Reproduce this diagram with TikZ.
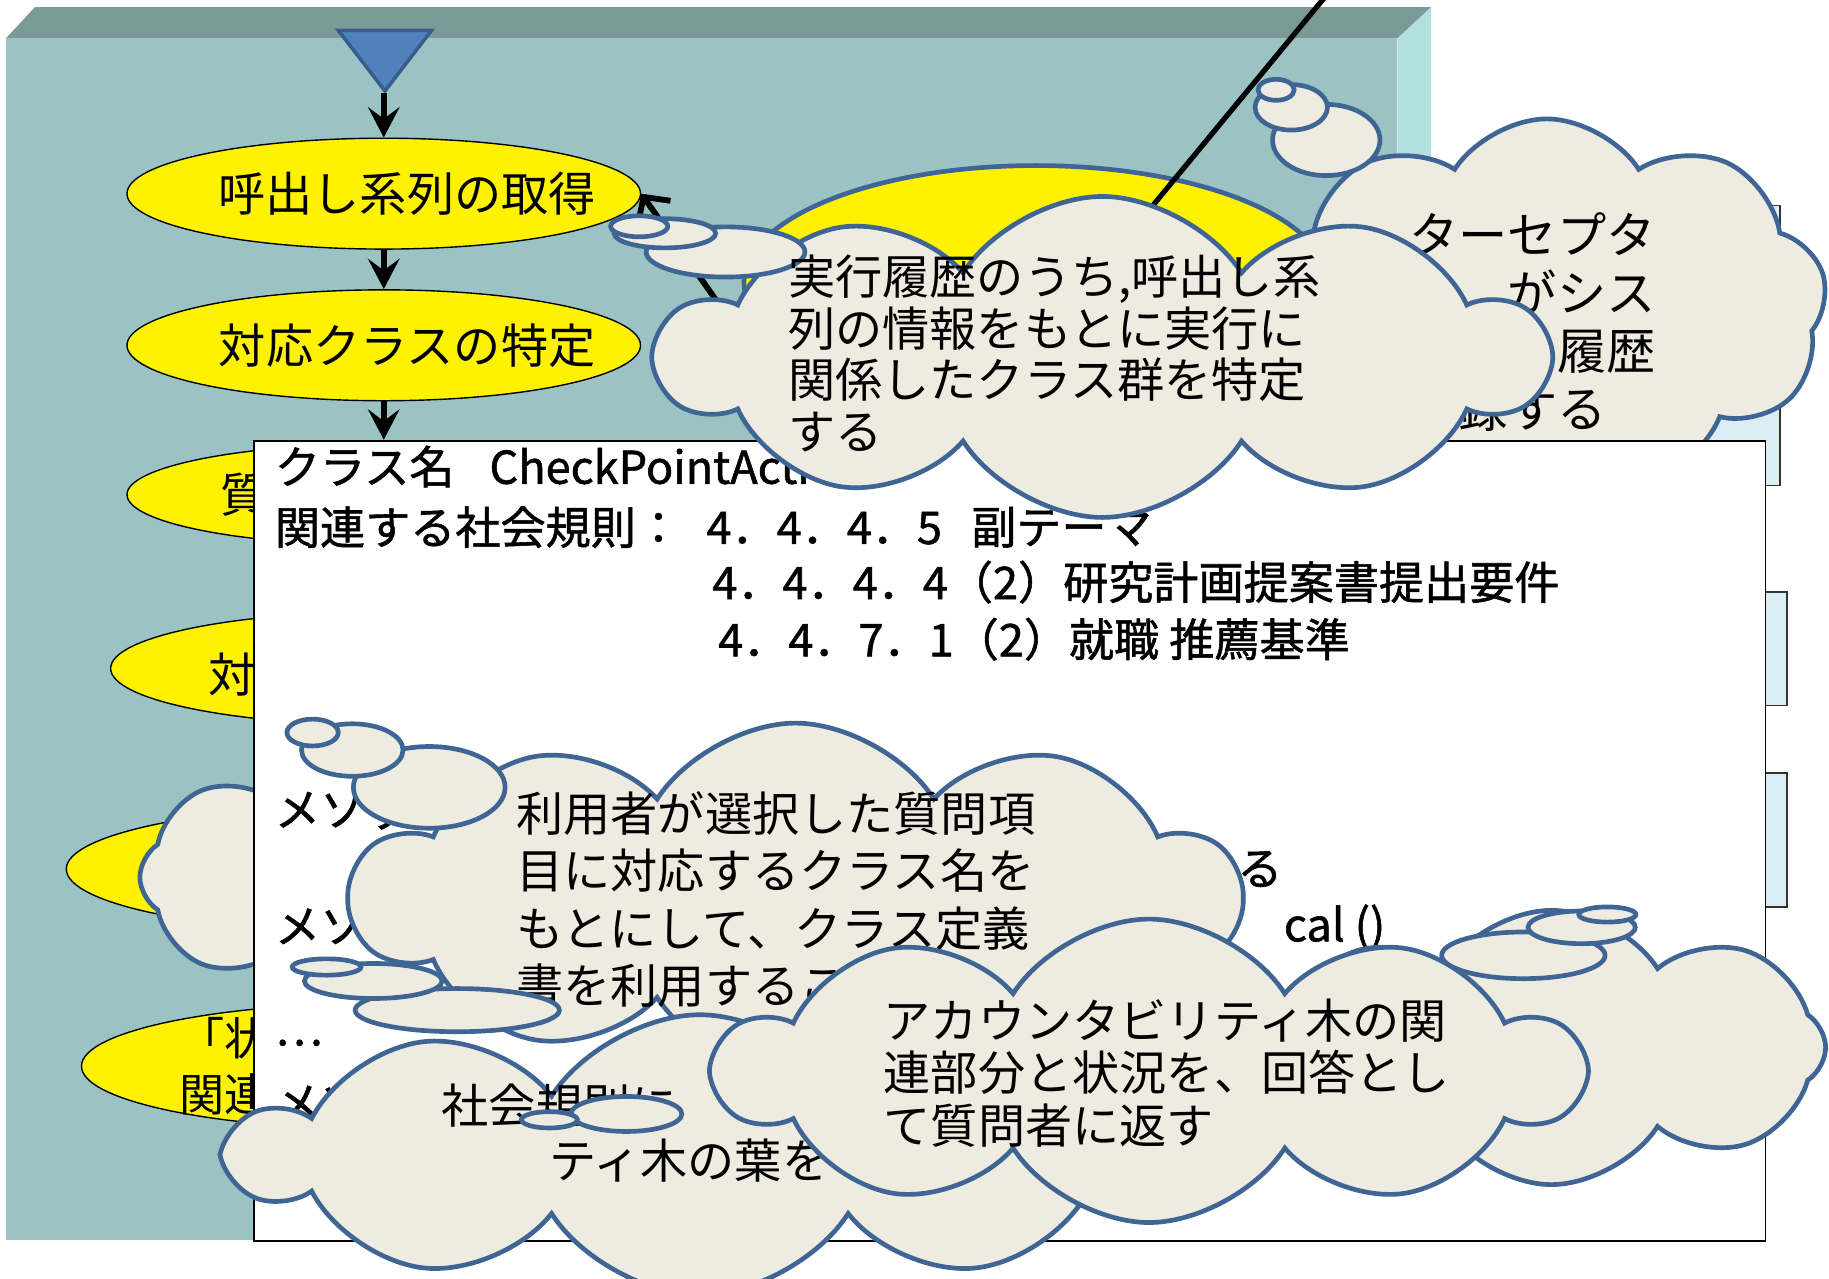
\documentclass[tikz,border=0pt]{standalone}
\usepackage{fontspec}
\setmainfont{Noto Sans CJK JP}
\newfontfamily\cardfont[FakeBold=1.2]{Noto Sans CJK JP}
\usetikzlibrary{shapes.symbols,shapes.geometric,arrows.meta}

\definecolor{wallfront}{HTML}{9BC3C4}
\definecolor{walltop}{HTML}{7A9A98}
\definecolor{wallside}{HTML}{B2E0E0}
\definecolor{slip}{HTML}{DBEEF4}
\definecolor{puff}{HTML}{EEEBE1}
\definecolor{puffline}{HTML}{3F6595}
\definecolor{tri}{HTML}{4F81BD}
\definecolor{triline}{HTML}{385D8A}

\tikzset{
  act/.style={draw, ellipse, fill=yellow, line width=0.012cm, inner xsep=-0.35cm, inner ysep=0pt, font=\fontsize{11.5}{14}\selectfont},
  flow/.style={line width=0.055cm, -{Stealth[length=0.26cm,width=0.27cm,inset=0.1cm]}},
  think/.style={cloud, cloud puffs=#1, cloud puff arc=115, cloud ignores aspect, draw=puffline, fill=puff, line width=0.04cm, inner sep=0pt},
  bub/.style={ellipse, draw=puffline, fill=puff, line width=0.04cm, inner sep=0pt},
  sheet/.style={draw=black!80, fill=slip, line width=0.015cm, inner sep=0pt},
  say/.style={align=left, inner sep=0pt, anchor=west},
  row/.style={inner sep=0pt, anchor=west, font=\cardfont\fontsize{11}{13}\selectfont}
}

\begin{document}
\begin{tikzpicture}[x=0.01cm, y=-0.01cm]
\useasboundingbox (0,0) rectangle (1568,1096);
\clip (0,0) rectangle (1568,1096);

% stage
\fill[walltop] (5,33) -- (30,6) -- (1227,6) -- (1198,33) -- cycle;
\fill[wallside] (1198,33) -- (1227,6) -- (1227,1036) -- (1198,1063) -- cycle;
\fill[wallfront] (5,33) rectangle (1198,1063);

% cards lying behind
\node[sheet, minimum width=3.0cm, minimum height=2.4cm, anchor=south east] (back1) at (1527,417) {};
\node[sheet, minimum width=1.0cm, minimum height=0.97cm, anchor=north east] (back2) at (1533,507) {};
\node[sheet, minimum width=1.0cm, minimum height=1.15cm, anchor=north east] (back3) at (1533,662) {};

% big step and its wires
\node[ellipse, draw=puffline, fill=yellow, line width=0.04cm, minimum width=5.0cm, minimum height=2.0cm] (big) at (888,242) {};
\coordinate (wire) at (1142,-10);
\coordinate (wireend) at (934,242);
\draw[line width=0.045cm] (wire) -- (wireend);

% flow
\fill[fill=tri, draw=triline, line width=0.03cm] (290,26) -- (370,26) -- (330,78) -- cycle;
\coordinate (tip) at (329,80);
\node[act, minimum width=4.4cm, minimum height=0.95cm] (e1) at (329,166) {\hspace{0.4cm}呼出し系列の取得};
\node[act, minimum width=4.4cm, minimum height=0.95cm] (e2) at (329,296) {\hspace{0.4cm}対応クラスの特定};
\node[act, minimum width=4.4cm, minimum height=0.87cm] (e3) at (329,424) {};
\node[act, minimum width=4.68cm, minimum height=0.97cm] (e4) at (329,573) {};
\node[act, minimum width=5.44cm, minimum height=1.1cm] (e5) at (329,745) {};
\node[act, minimum width=5.18cm, minimum height=1.08cm] (e6) at (329,914) {};
\node[say, font=\fontsize{11.5}{14}\selectfont] (e3t) at (188,424) {質};
\node[say, font=\fontsize{11.5}{14}\selectfont] (e4t) at (178,578) {対};
\node[say, font=\fontsize{11.5}{14}\selectfont] (e5t) at (150,762) {関};
\node[say, font=\fontsize{11}{13.5}\selectfont] (e6t) at (153,914) {「状\\関連};
\draw[flow] (tip) -- (e1.north);
\draw[flow] (e1) -- (e2);
\coordinate (back) at (665,330);
\draw[line width=0.05cm, -{Straight Barb[length=0.16cm,width=0.34cm]}] (back) -- (e1.east);

% cloud behind the card
\node[think=8, minimum width=3.6cm, minimum height=2.1cm] (lcloud) at (300,752) {};

% recording cloud
\node[think=9, minimum width=4.8cm, minimum height=3.2cm] (rec) at (1326,262) {};
\node[bub, minimum width=0.92cm, minimum height=0.61cm] (rec3) at (1137,120) {};
\node[bub, minimum width=0.62cm, minimum height=0.39cm] (rec2) at (1107,92) {};
\node[bub, minimum width=0.31cm, minimum height=0.18cm] (rec1) at (1094,77) {};
\node[say, anchor=east, align=right, font=\fontsize{12}{14.2}\selectfont] (rect) at (1420,276)
  {ターセプタ\\がシス\\履歴\\記録する\rule{0.42cm}{0pt}};

% class card
\node[draw, fill=white, line width=0.015cm, minimum width=12.95cm, minimum height=6.86cm, anchor=north west, inner sep=0pt] (card) at (217,377) {};
\draw[flow] (e2) -- (e2 |- card.north);
\node[row] (c1) at (235,400) {クラス名\hspace{0.3cm}CheckPointActi};
\node[row] (c2) at (235,452) {関連する社会規則：};
\node[row] (c2n) at (605,452) {4．4．4．5\hspace{0.25cm}副テーマ};
\node[row] (c3) at (610,499) {4．4．4．4（2）研究計画提案書提出要件};
\node[row] (c4) at (615,548) {4．4．7．1（2）就職 推薦基準};
\node[row] (m1) at (235,695) {メソッ};
\node[row] (m1e) at (1060,745) {る};
\node[row] (m2) at (235,795) {メソッ};
\node[row] (m2e) at (1100,795) {cal ()};
\node[row] (dots) at (235,894) {…};
\node[row] (m3) at (235,946) {メソ};

% tracing cloud
\node[think=10, minimum width=7.6cm, minimum height=2.75cm] (trace) at (945,306) {};
\node[bub, minimum width=1.36cm, minimum height=0.43cm] (trace3) at (622,216) {};
\node[bub, minimum width=0.87cm, minimum height=0.25cm] (trace2) at (570,200) {};
\node[bub, minimum width=0.49cm, minimum height=0.18cm] (trace1) at (548,194) {};
\node[say, font=\fontsize{11.5}{12.6}\selectfont] (tracet) at (675,303)
  {実行履歴のうち,呼出し系\\列の情報をもとに実行に\\関係したクラス群を特定\\する};

% lookup cloud
\node[think=10, minimum width=7.6cm, minimum height=3.0cm] (look) at (682,770) {};
\node[bub, minimum width=1.30cm, minimum height=0.70cm] (look3) at (368,675) {};
\node[bub, minimum width=0.87cm, minimum height=0.45cm] (look2) at (302,643) {};
\node[bub, minimum width=0.44cm, minimum height=0.23cm] (look1) at (268,628) {};
\node[say, font=\fontsize{11.5}{14}\selectfont] (lookt) at (442,771)
  {利用者が選択した質問項\\目に対応するクラス名を\\もとにして、クラス定義\\書を利用すること};

% cloud behind the answer
\node[think=8, minimum width=4.7cm, minimum height=2.35cm] (side) at (1330,898) {};

% leaf cloud
\node[think=10, minimum width=8.0cm, minimum height=2.4cm] (leaf) at (600,990) {};
\node[bub, minimum width=1.75cm, minimum height=0.37cm] (leaf3) at (392,866) {};
\node[bub, minimum width=1.18cm, minimum height=0.30cm] (leaf2) at (320,841) {};
\node[bub, minimum width=0.59cm, minimum height=0.14cm] (leaf1) at (280,829) {};
\node[say, font=\fontsize{11.5}{14}\selectfont] (leaft1) at (378,948) {社会規則に};
\node[say, font=\fontsize{11.5}{14}\selectfont] (leaft2) at (470,995) {ティ木の葉を};
\node[bub, minimum width=0.95cm, minimum height=0.30cm] (mid2) at (537,955) {};
\node[bub, minimum width=0.48cm, minimum height=0.14cm] (mid1) at (471,960) {};

% answer cloud
\node[think=10, minimum width=7.4cm, minimum height=2.6cm] (answer) at (985,918) {};
\node[bub, minimum width=1.40cm, minimum height=0.40cm] (answer3) at (1306,819) {};
\node[bub, minimum width=0.92cm, minimum height=0.28cm] (answer2) at (1356,795) {};
\node[bub, minimum width=0.49cm, minimum height=0.13cm] (answer1) at (1378,784) {};
\node[say, font=\fontsize{11.5}{12.8}\selectfont] (answert) at (757,920)
  {アカウンタビリティ木の関\\連部分と状況を、回答とし\\て質問者に返す};
\end{tikzpicture}
\end{document}
